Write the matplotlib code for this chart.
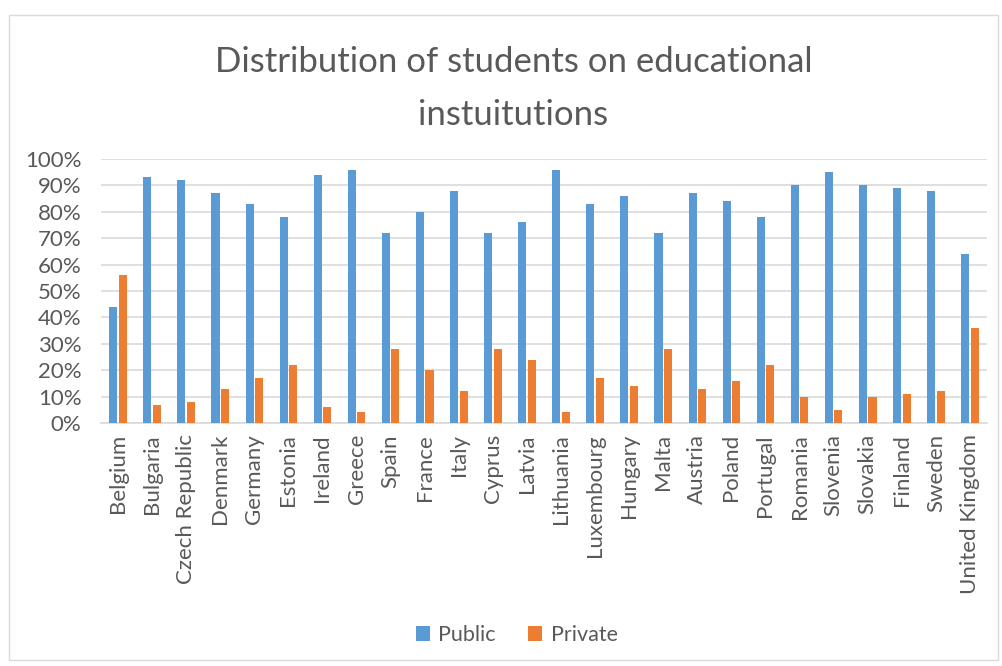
import matplotlib.pyplot as plt
import numpy as np
from matplotlib.patches import Rectangle

plt.rcParams['font.family'] = ['Lato', 'DejaVu Sans']

countries = ['Belgium', 'Bulgaria', 'Czech Republic', 'Denmark', 'Germany', 'Estonia',
             'Ireland', 'Greece', 'Spain', 'France', 'Italy', 'Cyprus', 'Latvia',
             'Lithuania', 'Luxembourg', 'Hungary', 'Malta', 'Austria', 'Poland',
             'Portugal', 'Romania', 'Slovenia', 'Slovakia', 'Finland', 'Sweden',
             'United Kingdom']
public = [44, 93, 92, 87, 83, 78, 94, 96, 72, 80, 88, 72, 76, 96, 83, 86, 72, 87, 84, 78,
          90, 95, 90, 89, 88, 64]
private = [56, 7, 8, 13, 17, 22, 6, 4, 28, 20, 12, 28, 24, 4, 17, 14, 28, 13, 16, 22,
           10, 5, 10, 11, 12, 36]

text_col = '#595959'
fig = plt.figure(figsize=(10.03, 6.66), dpi=100)
ax = fig.add_axes([101 / 1003, 1 - 423 / 666, 886 / 1003, 264 / 666])

x = np.arange(len(countries))
w = 0.235
ax.bar(x - 0.14, public, w, color='#5B9BD5', label='Public', zorder=3)
ax.bar(x + 0.14, private, w, color='#ED7D31', label='Private', zorder=3)

ax.set_xlim(-0.5, len(countries) - 0.5)
ax.set_ylim(0, 100)
ax.set_yticks(range(0, 101, 10))
ax.set_yticklabels(['{}%'.format(v) for v in range(0, 101, 10)], fontsize=16, color=text_col)
ax.set_xticks(x)
ax.set_xticklabels(countries, rotation=90, fontsize=16, color=text_col)
ax.tick_params(axis='y', length=0, pad=14)
ax.tick_params(axis='x', length=0, pad=8)
ax.grid(axis='y', color='#d9d9d9', linewidth=1.2, zorder=0)
for s in ['top', 'right', 'left']:
    ax.spines[s].set_visible(False)
ax.spines['bottom'].set_color('#d9d9d9')
ax.spines['bottom'].set_linewidth(1.2)

fig.text(0.512, 1 - 72 / 666, 'Distribution of students on educational',
         ha='center', va='baseline', fontsize=25, color=text_col)
fig.text(0.512, 1 - 125 / 666, 'instuitutions',
         ha='center', va='baseline', fontsize=25, color=text_col)

leg = fig.legend(loc='center', bbox_to_anchor=(0.515, 1 - 635 / 666), ncol=2, frameon=False,
                 fontsize=15.5, handlelength=0.65, handleheight=0.65, columnspacing=1.5,
                 handletextpad=0.4)
for t in leg.get_texts():
    t.set_color(text_col)

fig.patches.append(Rectangle((9 / 1003, 1 - 660 / 666), 989 / 1003, 645 / 666,
                             transform=fig.transFigure, fill=False, edgecolor='#d9d9d9',
                             linewidth=1))

fig.savefig('out.png', dpi=100)
